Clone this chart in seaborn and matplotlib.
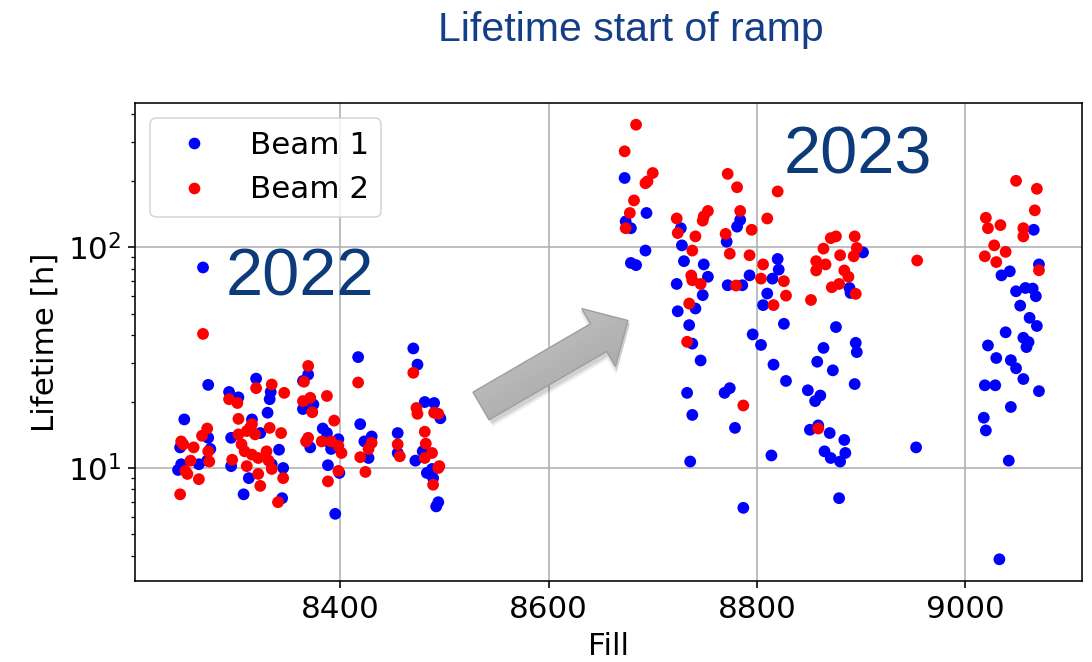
import numpy as np
import pandas as pd
import matplotlib
matplotlib.use("Agg")
import matplotlib.pyplot as plt
from matplotlib.lines import Line2D
from matplotlib.patches import FancyArrow
from matplotlib.colors import LinearSegmentedColormap
import seaborn as sns

# ---------------------------------------------------------------- data
# Beam 1, 2022 run
b1_fill_2022 = [8268, 8273, 8250, 8246, 8244, 8247, 8264, 8273, 8275, 8272,
                8293, 8302, 8319, 8333, 8332, 8330, 8315, 8295, 8323, 8341,
                8295, 8312, 8307, 8345, 8344, 8334, 8369, 8364, 8364, 8374,
                8383, 8387, 8388, 8398, 8391, 8371, 8388, 8399, 8395, 8417,
                8419, 8423, 8430, 8427, 8470, 8474, 8481, 8490, 8496, 8455,
                8455, 8479, 8472, 8483, 8488, 8489, 8494, 8492]
b1_life_2022 = [81, 23.8, 16.6, 12.4, 9.8, 10.4, 10.4, 13.7, 12.2, 10.8,
                22.1, 20.9, 25.4, 22.1, 20.5, 17.8, 16.6, 13.7, 14.4, 12.1,
                10.2, 9.0, 7.6, 10.0, 7.3, 10.4, 26.5, 24.8, 18.5, 19.4,
                15.1, 14.4, 13.2, 13.5, 12.2, 12.4, 10.3, 9.5, 6.2, 31.8,
                15.8, 13.2, 13.9, 11.1, 34.8, 29.4, 19.9, 19.7, 16.8, 14.4,
                11.7, 11.9, 10.8, 9.5, 9.9, 9.0, 7.0, 6.7]

# Beam 1, 2023 run
b1_fill_2023 = [8673, 8694, 8674, 8679, 8693, 8679, 8684, 8727, 8728, 8730,
                8749, 8753, 8723, 8748, 8741, 8724, 8735, 8738, 8784, 8781,
                8771, 8793, 8772, 8786, 8820, 8821, 8815, 8810, 8806, 8826,
                8796, 8804, 8902, 8889, 8890, 8876, 8895, 8864, 8896, 8746,
                8816, 8828, 8858, 8873, 8894, 8849, 8861, 8856, 8733, 8769,
                8774, 8738, 8779, 8851, 8859, 8870, 8884, 8865, 8885, 8871,
                8880, 8814, 8736, 8953, 8879, 8787,
                9066, 9071, 9035, 9043, 9049, 9058, 9065, 9068, 9053, 9062,
                9069, 9039, 9056, 9061, 9059, 9022, 9030, 9044, 9049, 9056,
                9019, 9029, 9071, 9044, 9018, 9020, 9042, 9033]
b1_life_2023 = [206, 143, 131, 122, 96.6, 84.9, 83, 122, 102, 86.5,
                83.6, 73.5, 68.2, 60.7, 52.8, 51.3, 44.4, 36.6, 133, 124,
                106, 74.6, 67.3, 67.3, 88.5, 79.2, 72.1, 61.7, 54.7, 45.0,
                40.3, 36.1, 94.8, 65.4, 62.1, 43.5, 36.9, 35.0, 33.5, 30.7,
                29.4, 24.8, 30.3, 27.7, 24.0, 22.5, 21.3, 20.1, 21.9, 21.9,
                23.0, 17.4, 15.2, 14.9, 15.6, 14.4, 13.4, 11.9, 11.7, 11.1,
                10.7, 11.4, 10.7, 12.4, 7.3, 6.6,
                120, 83.6, 74.6, 77.8, 63.2, 65.4, 65.0, 60.0, 54.4, 47.9,
                44.0, 41.2, 38.9, 37.2, 35.3, 35.9, 31.5, 30.8, 28.3, 25.3,
                23.7, 23.7, 22.3, 18.9, 16.9, 14.8, 10.8, 3.86]

# Beam 2, 2022 run
b2_fill_2022 = [8268, 8246, 8251, 8253, 8264, 8256, 8259, 8247, 8267, 8272,
                8273, 8274, 8249, 8293, 8301, 8302, 8313, 8296, 8302, 8305,
                8310, 8315, 8318, 8319, 8334, 8346, 8332, 8343, 8329, 8331,
                8321, 8315, 8308, 8310, 8323, 8321, 8334, 8345, 8340, 8369,
                8365, 8364, 8371, 8373, 8387, 8394, 8382, 8391, 8398, 8401,
                8367, 8369, 8398, 8388, 8417, 8430, 8427, 8419, 8424, 8470,
                8473, 8474, 8490, 8494, 8455, 8457, 8481, 8482, 8488, 8481,
                8494, 8495, 8489]
b2_life_2022 = [40.5, 7.6, 9.7, 9.4, 8.9, 10.8, 12.4, 13.2, 14.0, 15.1,
                11.9, 10.7, 12.8, 20.5, 19.7, 16.7, 15.2, 10.9, 14.2, 12.8,
                14.7, 15.8, 14.2, 23.0, 23.9, 21.9, 15.2, 14.4, 11.9, 10.8,
                11.1, 11.5, 11.9, 10.2, 8.3, 9.4, 9.9, 9.0, 7.0, 29.0,
                24.6, 20.1, 20.8, 17.9, 21.2, 16.4, 13.2, 13.2, 12.6, 11.7,
                13.2, 13.7, 9.7, 8.7, 24.4, 13.0, 12.2, 11.2, 9.6, 27.0,
                18.7, 17.6, 17.8, 17.6, 12.8, 11.3, 14.6, 12.9, 11.7, 11.1,
                10.0, 10.2, 8.4]

# Beam 2, 2023 run
b2_fill_2023 = [8684, 8673, 8695, 8700, 8693, 8682, 8678, 8674, 8723, 8724,
                8741, 8738, 8737, 8738, 8746, 8735, 8733, 8772, 8781, 8753,
                8749, 8748, 8784, 8770, 8795, 8774, 8793, 8780, 8820, 8810,
                8806, 8804, 8826, 8828, 8816, 8852, 8871, 8876, 8894, 8864,
                8896, 8880, 8893, 8857, 8866, 8857, 8884, 8888, 8872, 8879,
                8895, 8954, 8787, 8859,
                9049, 9069, 9067, 9020, 9022, 9034, 9056, 9056, 9028, 9039,
                9019, 9030, 9071]
b2_life_2023 = [359, 272, 199, 217, 195, 163, 143, 122, 135, 116,
                112, 96.6, 74.5, 70.9, 68.2, 55.6, 37.3, 215, 187, 146,
                138, 132, 146, 115, 120, 93.5, 92, 67.1, 179, 135,
                83.6, 72.1, 70.2, 60.4, 54.7, 57.7, 110, 112, 112, 98.6,
                99.3, 92, 91, 86.5, 83.6, 78.5, 78.5, 73.5, 65.9, 68.2,
                61.5, 87.1, 19.2, 15.1,
                200, 184, 147, 136, 122, 126, 122, 112, 102, 95.3,
                91, 85.7, 78.7]

beam_labels = ["Beam 1", "Beam 2"]
beam_colors = ["blue", "red"]
fill_ticks = [8400, 8600, 8800, 9000]
year_labels = ["2022", "2023"]
title_text = "Lifetime start of ramp"

# ---------------------------------------------------------------- table
df = pd.concat([
    pd.DataFrame({"Fill": b1_fill_2022 + b1_fill_2023,
                  "Lifetime": b1_life_2022 + b1_life_2023,
                  "Beam": beam_labels[0]}),
    pd.DataFrame({"Fill": b2_fill_2022 + b2_fill_2023,
                  "Lifetime": b2_life_2022 + b2_life_2023,
                  "Beam": beam_labels[1]}),
], ignore_index=True)

# ---------------------------------------------------------------- style
FS = 22.3
sns.set_theme(style="ticks", rc={
    "axes.linewidth": 1.15,
    "axes.edgecolor": "black",
    "axes.labelsize": FS,
    "axes.labelpad": 5.5,
    "xtick.labelsize": FS,
    "ytick.labelsize": FS,
    "xtick.major.size": 5.0,
    "ytick.major.size": 5.0,
    "xtick.major.width": 1.15,
    "ytick.major.width": 1.15,
    "ytick.minor.size": 2.9,
    "ytick.minor.width": 0.9,
    "xtick.major.pad": 5.0,
    "ytick.major.pad": 5.0,
    "xtick.color": "black",
    "ytick.color": "black",
    "axes.labelcolor": "black",
    "text.color": "black",
    "axes.axisbelow": True,
})
plt.rcParams["font.family"] = ["DejaVu Sans"]

W, H, DPI = 1092, 662, 100
fig = plt.figure(figsize=(W / DPI, H / DPI), dpi=DPI)
ax = fig.add_axes([135 / W, 1 - 581 / H, (1082 - 135) / W, (581 - 103) / H])
ax.set_yscale("log")

sns.scatterplot(data=df, x="Fill", y="Lifetime", hue="Beam",
                palette=dict(zip(beam_labels, beam_colors)),
                s=72, linewidth=0, alpha=1.0, legend=False, ax=ax, zorder=3)

ax.set_xticks(fill_ticks)
ax.set_xlabel("Fill")
ax.set_ylabel("Lifetime [h]")
ax.grid(True, which="major", color="#b0b0b0", linewidth=1.15)
ax.grid(False, which="minor")
ax.tick_params(axis="x", which="minor", bottom=False)
for side in ("top", "right"):
    ax.spines[side].set_visible(True)

handles = [Line2D([], [], marker="o", linestyle="", color=c, markersize=8.4,
                  markeredgewidth=0, label=lab)
           for lab, c in zip(beam_labels, beam_colors)]
leg = ax.legend(handles=handles, loc="upper left", fontsize=FS,
                frameon=True, fancybox=True, framealpha=0.8,
                edgecolor="0.8", borderpad=0.4, handlelength=2.0,
                handletextpad=0.8, labelspacing=0.5, borderaxespad=0.5)
leg.get_frame().set_linewidth(1.15)
for t in leg.get_texts():
    t.set_color("black")

# ---------------------------------------------------------------- overlay (pixel units)
ov = fig.add_axes([0, 0, 1, 1], zorder=5)
ov.set_xlim(0, W)
ov.set_ylim(H, 0)
ov.axis("off")
ov.patch.set_alpha(0)

fig.text(631 / W, 1 - 41 / H, title_text, ha="center", va="baseline",
         fontsize=29.5, color="#143F86", family=["Liberation Sans", "DejaVu Sans"])

year_color = "#0D3A7A"
ov.text(226, 295, year_labels[0], ha="left", va="baseline", fontsize=48,
        color=year_color, family=["Liberation Sans", "DejaVu Sans"])
ov.text(784, 173, year_labels[1], ha="left", va="baseline", fontsize=48,
        color=year_color, family=["Liberation Sans", "DejaVu Sans"])

# block arrow with soft shadow and grey shading
ax0, ay0, adx, ady = 481.0, 406.0, 147.0, -85.5
for k, a in enumerate([0.05, 0.06, 0.08]):
    grow = 8 - 3 * k
    ov.add_patch(FancyArrow(ax0 + 2, ay0 + 3, adx, ady, width=32 + grow,
                            head_width=67 + grow, head_length=34 + grow / 2,
                            length_includes_head=True, facecolor="black",
                            edgecolor="none", alpha=a, zorder=1))
arrow = FancyArrow(ax0, ay0, adx, ady, width=32, head_width=67, head_length=34,
                   length_includes_head=True, facecolor="none",
                   edgecolor="#9e9e9e", linewidth=1.0, zorder=3)
ov.add_patch(arrow)
gx, gy = np.meshgrid(np.linspace(460, 650, 200), np.linspace(290, 440, 160))
shade = (gx - 460) * 0.5 + (gy - 290) * 0.866
shade = (shade - shade.min()) / (shade.max() - shade.min())
grey = LinearSegmentedColormap.from_list("grey", ["#d6d6d6", "#b4b4b4", "#9a9a9a"])
im = ov.imshow(shade, cmap=grey, extent=[460, 650, 440, 290], origin="upper",
               interpolation="bilinear", zorder=2)
im.set_clip_path(arrow)
ov.set_aspect("auto")
ov.set_xlim(0, W)
ov.set_ylim(H, 0)

fig.savefig("out.png", dpi=DPI)
